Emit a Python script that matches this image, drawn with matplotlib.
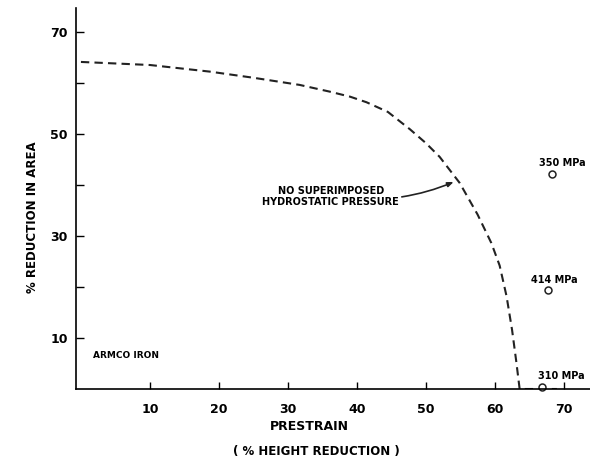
import numpy as np
import matplotlib
matplotlib.use("Agg")
import matplotlib.pyplot as plt

# curve: no superimposed hydrostatic pressure
prestrain = [0, 10, 18.7, 25, 31.7, 36, 39, 41.4, 44.5, 47.7, 50, 52, 54.9, 57.5, 59.5,
             60.7, 61.7, 62.5, 63.1, 63.6, 69]
reduction = [64.1, 63.5, 62.2, 61, 59.6, 58.3, 57.3, 56.2, 54.3, 50.9, 48.2, 45.5, 40.4, 34.2, 28.6,
             24.2, 18.2, 11.6, 5.5, 0, 0]

# points under pressure
pt_x = [68.3, 67.7, 66.8]
pt_y = [42.2, 19.4, 0.4]
pt_labels = ["350 MPa", "414 MPa", "310 MPa"]

xticks = [10, 20, 30, 40, 50, 60, 70]
yticks = [10, 30, 50, 70]
yminor = [20, 40, 60]

fnt = dict(family="DejaVu Sans", weight="bold")

fig = plt.figure(figsize=(5.9, 4.62), dpi=100)
ax = fig.add_axes([0.129, 0.158, 0.871, 0.825])

ax.plot(prestrain, reduction, color="#222222", lw=1.5, ls=(0, (4, 2.5)))
ax.plot(pt_x, pt_y, "o", ms=5, mfc="white", mec="#222222", mew=1.1, clip_on=False)

lab_off = [(-1.9, 2.0), (-2.5, 2.0), (-0.6, 2.2)]
for x, y, s, (dx, dy) in zip(pt_x, pt_y, pt_labels, lab_off):
    ax.text(x + dx, y + dy, s, fontsize=7, ha="left", va="center", **fnt)

ax.set_xlim(-0.7, 73.8)
ax.set_ylim(0, 74.7)
for s in ["top", "right"]:
    ax.spines[s].set_visible(False)
ax.spines["left"].set_linewidth(1.2)
ax.spines["bottom"].set_linewidth(1.2)

ax.set_xticks(xticks)
ax.set_yticks(yticks)
ax.set_yticks(yminor, minor=True)
ax.set_xticklabels([str(v) for v in xticks], fontsize=9, **fnt)
ax.set_yticklabels([str(v) for v in yticks], fontsize=9, **fnt)
ax.tick_params(axis="x", direction="in", length=5, width=1, pad=10)
ax.tick_params(axis="y", which="both", direction="in", length=6, width=1, pad=6)

ax.text(1.7, 6.5, "ARMCO IRON", fontsize=6.5, ha="left", va="center", **fnt)

ax.annotate("NO SUPERIMPOSED\nHYDROSTATIC PRESSURE", xy=(54.4, 40.8), xytext=(36.2, 37.8),
            fontsize=7, ha="center", va="center", linespacing=1.1,
            arrowprops=dict(arrowstyle="-|>,head_length=0.5,head_width=0.2", color="#222222",
                            lw=1.2, connectionstyle="arc3,rad=0.15",
                            shrinkA=0, shrinkB=2),
            **fnt)

fig.text(0.055, 0.53, "% REDUCTION IN AREA", rotation=90, fontsize=8.5,
         ha="center", va="center", **fnt)
fig.text(0.525, 0.076, "PRESTRAIN", fontsize=9, ha="center", va="center", **fnt)
fig.text(0.537, 0.022, "( % HEIGHT REDUCTION )", fontsize=8.5, ha="center", va="center", **fnt)

fig.savefig("out.png", dpi=100)
